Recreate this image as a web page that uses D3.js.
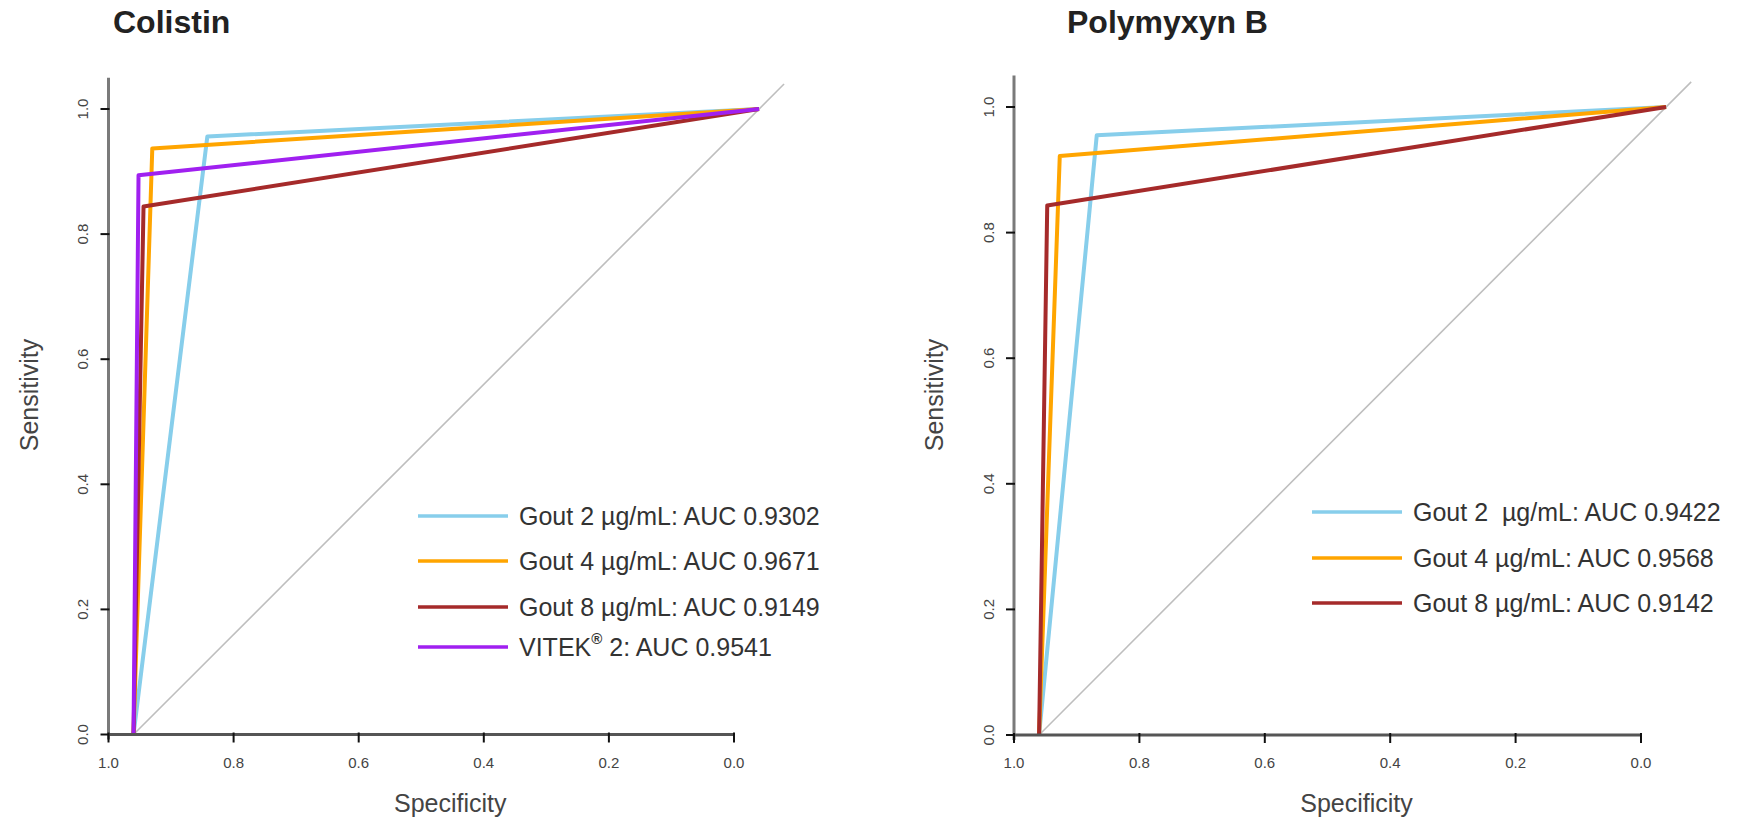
<!DOCTYPE html>
<html>
<head>
<meta charset="utf-8">
<script src="https://cdn.jsdelivr.net/npm/d3@7"></script>
<style>
  body { margin: 0; background: #fff; }
  text { font-family: "Liberation Sans", Arial, Helvetica, sans-serif; fill: #333; }
</style>
</head>
<body>
<svg id="chart"></svg>
<script>
// Axis ticks
const specTicks = [1.0, 0.8, 0.6, 0.4, 0.2, 0.0];
const sensTicks = [0.0, 0.2, 0.4, 0.6, 0.8, 1.0];

// Chance line as it sits in the picture (specificity, sensitivity)
const chanceLine = [[0.96, 0], [-0.08, 1.04]];

// Colistin ROC curves (specificity, sensitivity)
const colistinNames = ["Gout 2 µg/mL", "Gout 4 µg/mL", "Gout 8 µg/mL", "VITEK® 2"];
const colistinAuc = [0.9302, 0.9671, 0.9149, 0.9541];
const colistinGout2 = [[0.96, 0], [0.842, 0.956], [-0.04, 1]];
const colistinGout4 = [[0.96, 0], [0.930, 0.937], [-0.04, 1]];
const colistinGout8 = [[0.96, 0], [0.944, 0.844], [-0.04, 1]];
const colistinVitek = [[0.96, 0], [0.952, 0.894], [-0.04, 1]];

// Polymyxin B ROC curves
const polyNames = ["Gout 2  µg/mL", "Gout 4 µg/mL", "Gout 8 µg/mL"];
const polyAuc = [0.9422, 0.9568, 0.9142];
const polyGout2 = [[0.96, 0], [0.868, 0.955], [-0.04, 1]];
const polyGout4 = [[0.96, 0], [0.927, 0.922], [-0.04, 1]];
const polyGout8 = [[0.96, 0], [0.947, 0.843], [-0.04, 1]];

const colors = ["#87CEEB", "#FFA500", "#A52A2A", "#A020F0"];

const width = 1745;
const height = 822;

const svg = d3.select("#chart")
  .attr("width", width)
  .attr("height", height);

const panels = [
  {
    title: "Colistin",
    curves: [colistinGout2, colistinGout4, colistinGout8, colistinVitek],
    names: colistinNames,
    auc: colistinAuc,
    xRange: [108.5, 734],
    yRange: [734.5, 109],
    titleX: 113,
    legend: { x: 418, ys: [516, 561, 607, 647] }
  },
  {
    title: "Polymyxyn B",
    curves: [polyGout2, polyGout4, polyGout8],
    names: polyNames,
    auc: polyAuc,
    xRange: [1014, 1641],
    yRange: [735, 107],
    titleX: 1067,
    legend: { x: 1312, ys: [512, 558, 603] }
  }
];

panels.forEach(drawPanel);

function drawPanel(p) {
  const x = d3.scaleLinear().domain([1, 0]).range(p.xRange);
  const y = d3.scaleLinear().domain([0, 1]).range(p.yRange);
  const g = svg.append("g");

  // Title
  g.append("text")
    .attr("x", p.titleX)
    .attr("y", 33)
    .attr("font-size", 32)
    .attr("font-weight", "bold")
    .style("fill", "#222")
    .text(p.title);

  // Chance line
  const line = d3.line().x(d => x(d[0])).y(d => y(d[1]));
  g.append("path")
    .attr("d", line(chanceLine))
    .attr("fill", "none")
    .attr("stroke", "#BEBEBE")
    .attr("stroke-width", 1.6);

  // ROC curves
  g.selectAll(".roc")
    .data(p.curves)
    .join("path")
    .attr("class", "roc")
    .attr("d", line)
    .attr("fill", "none")
    .attr("stroke", (d, i) => colors[i])
    .attr("stroke-width", 4)
    .attr("stroke-linejoin", "round");

  // Y axis
  g.append("line")
    .attr("x1", x(1)).attr("x2", x(1))
    .attr("y1", y(1.05)).attr("y2", y(-0.008))
    .attr("stroke", "#7a7a7a")
    .attr("stroke-width", 3);
  g.selectAll(".ytick")
    .data(sensTicks)
    .join("line")
    .attr("x1", x(1) - 8).attr("x2", x(1) + 1)
    .attr("y1", d => y(d)).attr("y2", d => y(d))
    .attr("stroke", "#111")
    .attr("stroke-width", 2);
  g.selectAll(".ylab")
    .data(sensTicks)
    .join("text")
    .attr("transform", d => `translate(${x(1) - 26},${y(d)}) rotate(-90)`)
    .attr("text-anchor", "middle")
    .attr("dominant-baseline", "central")
    .attr("font-size", 15)
    .style("fill", "#444")
    .text(d => d.toFixed(1));

  // X axis
  g.append("line")
    .attr("x1", x(1)).attr("x2", x(0))
    .attr("y1", y(0)).attr("y2", y(0))
    .attr("stroke", "#555")
    .attr("stroke-width", 3);
  g.selectAll(".xtick")
    .data(specTicks)
    .join("line")
    .attr("x1", d => x(d)).attr("x2", d => x(d))
    .attr("y1", y(0) - 2).attr("y2", y(0) + 8)
    .attr("stroke", "#111")
    .attr("stroke-width", 2);
  g.selectAll(".xlab")
    .data(specTicks)
    .join("text")
    .attr("x", d => x(d))
    .attr("y", 762)
    .attr("text-anchor", "middle")
    .attr("dominant-baseline", "central")
    .attr("font-size", 15)
    .style("fill", "#444")
    .text(d => d.toFixed(1));

  // Axis titles
  g.append("text")
    .attr("x", (p.xRange[0] + p.xRange[1]) / 2 + 29)
    .attr("y", 812)
    .attr("text-anchor", "middle")
    .attr("font-size", 25)
    .style("fill", "#444")
    .text("Specificity");
  g.append("text")
    .attr("transform", `translate(${x(1) - 80},395) rotate(-90)`)
    .attr("text-anchor", "middle")
    .attr("dominant-baseline", "central")
    .attr("font-size", 25)
    .style("fill", "#444")
    .text("Sensitivity");

  // Legend
  const items = g.selectAll(".legend")
    .data(p.names)
    .join("g")
    .attr("class", "legend")
    .attr("transform", (d, i) => `translate(${p.legend.x},${p.legend.ys[i]})`);
  items.append("line")
    .attr("x1", 0).attr("x2", 90)
    .attr("stroke", (d, i) => colors[i])
    .attr("stroke-width", 3.5);
  const labels = items.append("text")
    .attr("x", 101)
    .attr("dominant-baseline", "central")
    .attr("font-size", 25)
    .style("white-space", "pre");
  labels.each(function(d, i) {
    const t = d3.select(this);
    const parts = d.split("®");
    t.append("tspan").text(parts[0]);
    if (parts.length > 1) {
      t.append("tspan").attr("font-size", 15).attr("dy", -9).attr("font-weight", "bold").text("®");
      t.append("tspan").attr("dy", 9).text(parts[1]);
    }
    t.append("tspan").text(`: AUC ${p.auc[i].toFixed(4)}`);
  });
}
</script>
</body>
</html>
